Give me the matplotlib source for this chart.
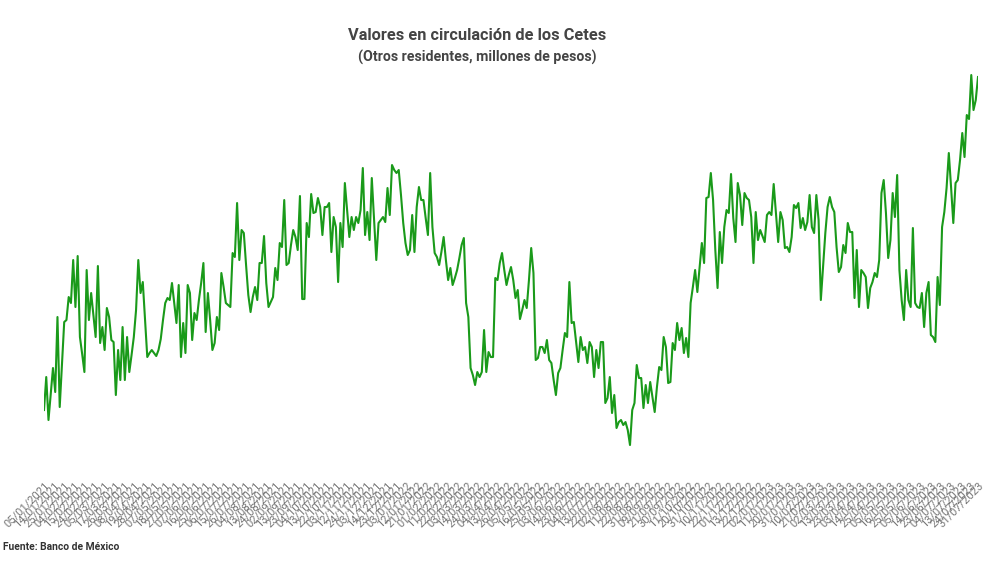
import matplotlib
matplotlib.use("Agg")
import matplotlib.pyplot as plt
import numpy as np
import pandas as pd

plt.rcParams['font.family'] = ['Roboto', 'DejaVu Sans']

# Días hábiles bancarios (México) del periodo de la gráfica
inicio = '2021-01-05'
fin = '2023-07-31'
feriados = ['2021-02-01', '2021-03-15', '2021-04-01', '2021-04-02', '2021-09-16',
            '2021-11-02', '2021-11-15',
            '2022-02-07', '2022-03-21', '2022-04-14', '2022-04-15', '2022-09-16',
            '2022-11-02', '2022-11-21', '2022-12-12',
            '2023-02-06', '2023-03-20', '2023-04-06', '2023-04-07', '2023-05-01']

# Valores (escala aproximada, sin eje en el original)
valores = [
    90, 123, 80, 106, 132, 108, 183, 93, 135, 178,
    180, 203, 197, 240, 193, 244, 163, 146, 128, 230,
    180, 207, 185, 163, 234, 157, 173, 150, 192, 183,
    160, 158, 105, 150, 120, 173, 120, 163, 128, 145,
    163, 190, 240, 207, 218, 180, 143, 147, 150, 147,
    144, 150, 161, 180, 197, 202, 200, 217, 197, 177,
    215, 143, 177, 147, 215, 207, 160, 187, 180, 200,
    217, 237, 168, 207, 180, 150, 157, 183, 170, 227,
    213, 197, 195, 193, 247, 243, 297, 240, 270, 267,
    235, 205, 188, 203, 213, 200, 237, 237, 264, 217,
    193, 198, 203, 232, 220, 257,
    253, 300, 235, 237, 255, 270, 263, 250, 304, 201,
    201, 277, 263, 306, 287, 288, 302, 293, 265, 293,
    293, 297, 248, 283, 273, 218, 277, 253, 317, 290,
    263, 283, 270, 283, 277, 290, 332, 265, 288, 260,
    322, 280, 240, 277, 280, 283, 278, 312, 285, 335,
    330, 327, 330, 305, 277, 257, 245, 250, 285, 248,
    293, 313, 300, 300, 282, 265, 327, 273, 247, 243,
    235, 248, 263, 240, 220, 232, 215, 222, 230, 242,
    255, 262, 197, 183, 132, 125, 115, 128, 123, 128,
    170, 128, 148, 143, 143, 222,
    220, 237, 247, 230, 215, 225, 233, 220, 202, 210,
    181, 190, 200, 192, 220, 252, 227, 140, 142, 153,
    153, 147, 160, 140, 137, 120, 105, 127, 132, 150,
    167, 163, 218, 177, 178, 158, 138, 163, 150, 153,
    137, 158, 153, 123, 150, 132, 158, 158, 97, 102,
    123, 87, 105, 72, 78, 80, 75, 78, 70, 55,
    90, 97, 135, 122, 122, 92, 115, 97, 118, 103,
    88, 113, 133, 130, 163, 153, 117, 118, 157, 150,
    177, 160, 172, 147, 162, 143, 197, 213, 230, 208,
    232, 257, 237, 302, 303, 327, 300, 250, 212, 268,
    237, 273, 290, 287, 326, 282,
    258, 317, 305, 275, 307, 302, 300, 283, 237, 288,
    260, 270, 264, 258, 285, 288, 285, 316, 287, 258,
    288, 280, 252, 253, 248, 263, 295, 292, 297, 272,
    282, 270, 278, 305, 273, 267, 305, 280, 200, 234,
    267, 293, 303, 293, 288, 253, 228, 233, 255, 247,
    277, 268, 268, 202, 250, 193, 230, 227, 223, 192,
    212, 218, 227, 223, 240, 307, 320, 287, 242, 260,
    307, 283, 325, 230, 200, 180, 230, 200, 193, 272,
    197, 193, 192, 207, 173, 207, 218, 165, 163, 158,
    223, 195, 273, 288, 312, 347, 313, 277, 317, 320,
    340, 367, 343, 385, 381, 425, 390, 400, 423,
]

titulo = 'Valores en circulación de los Cetes'
subtitulo = '(Otros residentes, millones de pesos)'
fuente = 'Fuente: Banco de México'

fechas = pd.bdate_range(inicio, fin, freq='C', holidays=feriados)
n = len(fechas)

# la serie leída tiene menos puntos que días: se reparte sobre el eje de días
x = np.linspace(0, n - 1, len(valores))

ticks = list(range(0, n, 7))
if ticks[-1] != n - 1:
    ticks.append(n - 1)
etiquetas = [fechas[i].strftime('%d/%m/%Y') for i in ticks]

fig = plt.figure(figsize=(10, 5.67), dpi=100)
ax = fig.add_axes([0.044, 0.1534, 0.934, 0.7231])

ax.plot(x, valores, color='#1a9a1a', linewidth=1.5)

ax.set_xlim(0, n - 1)
ax.set_ylim(20, 430)
ax.set_xticks(ticks)
ax.set_xticklabels(etiquetas, rotation=45, ha='right', rotation_mode='anchor',
                   fontsize=8, color='#777777')
ax.tick_params(axis='x', length=0, pad=0)
ax.set_yticks([])
for s in ax.spines.values():
    s.set_visible(False)

fig.text(0.477, 1 - 35 / 567, titulo, ha='center', va='center',
         fontsize=11.8, fontweight='bold', color='#444444')
fig.text(0.477, 1 - 57 / 567, subtitulo, ha='center', va='center',
         fontsize=10.2, fontweight='bold', color='#444444')
fig.text(0.003, 1 - 547 / 567, fuente, ha='left', va='center',
         fontsize=7.4, fontweight='bold', color='#333333')

fig.savefig('out.png', dpi=100)
